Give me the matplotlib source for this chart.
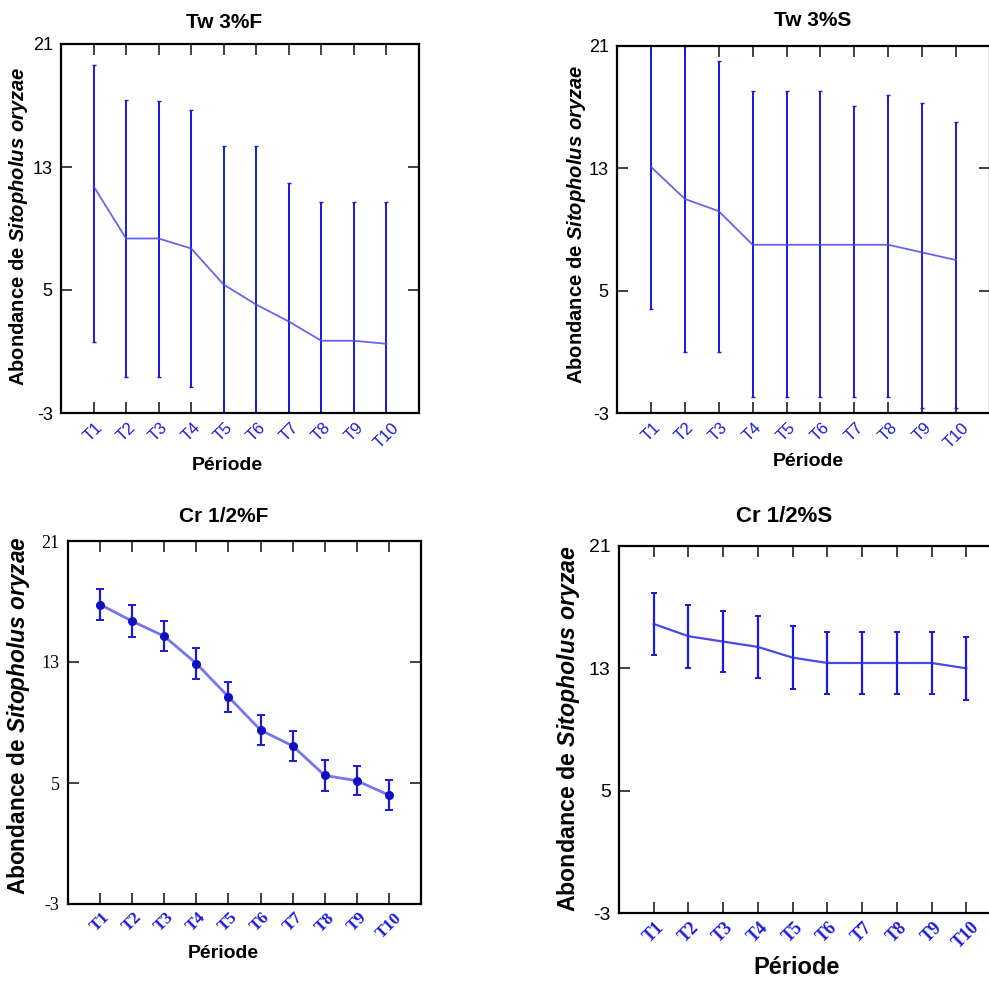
import numpy as np
import matplotlib
matplotlib.use("Agg")
import matplotlib.pyplot as plt

plt.rcParams['font.family'] = ['Liberation Sans', 'DejaVu Sans']
plt.rcParams['mathtext.fontset'] = 'custom'
plt.rcParams['mathtext.rm'] = 'Liberation Sans:bold'
plt.rcParams['mathtext.it'] = 'Liberation Sans:italic:bold'

periodes = ['T1', 'T2', 'T3', 'T4', 'T5', 'T6', 'T7', 'T8', 'T9', 'T10']
yticks = [-3, 5, 13, 21]

# Tw 3%F
tw3f_moy = [11.75, 8.35, 8.35, 7.7, 5.35, 4.05, 2.95, 1.7, 1.7, 1.5]
tw3f_bas = [10.1, 9.0, 9.0, 9.0, 9.0, 10.3, 9.0, 9.0, 9.0, 9.2]
tw3f_haut = [7.9, 9.0, 8.95, 9.0, 9.0, 10.3, 9.0, 9.0, 9.0, 9.2]

# Tw 3%S
tw3s_moy = [13.1, 11.0, 10.2, 8.0, 8.0, 8.0, 8.0, 8.0, 7.5, 7.0]
tw3s_bas = [9.3, 10.0, 9.2, 9.95, 9.95, 9.95, 9.95, 9.95, 10.2, 9.7]
tw3s_haut = [9.3, 10.0, 9.8, 10.05, 10.05, 10.05, 9.1, 9.8, 9.75, 9.0]

# Cr 1/2%F
cr12f_moy = [16.8, 15.7, 14.7, 12.9, 10.7, 8.5, 7.45, 5.5, 5.15, 4.2]
cr12f_err = [1.0, 1.05, 1.0, 1.05, 1.0, 1.0, 1.0, 1.0, 0.95, 1.0]

# Cr 1/2%S
cr12s_moy = [15.9, 15.1, 14.75, 14.4, 13.7, 13.35, 13.35, 13.35, 13.35, 13.0]
cr12s_err = [2.0, 2.05, 2.0, 2.05, 2.05, 2.0, 2.0, 2.0, 2.0, 2.05]

W, H = 989, 981
fig = plt.figure(figsize=(W / 100, H / 100), dpi=100)


def boite(x0, y0, x1, y1):
    # pixels -> fraction de figure
    return [x0 / W, 1 - y1 / H, (x1 - x0) / W, (y1 - y0) / H]


def txt(x, y, s, **kw):
    fig.text(x / W, 1 - y / H, s, ha='center', va='center', **kw)


bleu = '#1a1ad8'
x = np.arange(1, 11)


def axe(pos, ysize, yfam, xsize, xfam, xweight, xpad):
    ax = fig.add_axes(pos)
    ax.set_xlim(0, 11)
    ax.set_ylim(-3, 21)
    ax.set_xticks(x)
    ax.set_xticklabels(periodes, rotation=45, ha='center', color=bleu,
                       fontsize=xsize, family=xfam, fontweight=xweight)
    ax.set_yticks(yticks)
    ax.set_yticklabels([str(v) for v in yticks], fontsize=ysize, family=yfam)
    ax.tick_params(direction='in', length=8, width=1.3, color='#333333',
                   top=True, right=True)
    ax.tick_params(axis='x', pad=xpad)
    ax.tick_params(axis='y', pad=6)
    for s in ax.spines.values():
        s.set_linewidth(1.6)
    return ax


ylab = r'Abondance de $\mathit{Sitopholus\ oryzae}$'

# Tw 3%F
ax1 = axe(boite(61, 44, 419, 413), 13, 'Liberation Sans', 12, 'Liberation Sans', 'normal', 5)
ax1.errorbar(x, tw3f_moy, yerr=[tw3f_bas, tw3f_haut], fmt='none', ecolor=bleu,
             elinewidth=1.4, capsize=1.5)
ax1.plot(x, tw3f_moy, color='#4a4aee', lw=1.3, alpha=0.85)
txt(224, 22, 'Tw 3%F', fontsize=15, fontweight='bold')
txt(227, 465, 'Période', fontsize=14, fontweight='bold')
txt(19, 226, ylab, fontsize=14.5, fontweight='bold', rotation=90)

# Tw 3%S
ax2 = axe(boite(617, 46, 990, 413), 13, 'Liberation Sans', 12, 'Liberation Sans', 'normal', 5)
ax2.errorbar(x, tw3s_moy, yerr=[tw3s_bas, tw3s_haut], fmt='none', ecolor=bleu,
             elinewidth=1.4, capsize=1.5)
ax2.plot(x, tw3s_moy, color='#4a4aee', lw=1.3, alpha=0.85)
txt(813, 20, 'Tw 3%S', fontsize=15, fontweight='bold')
txt(808, 462, 'Période', fontsize=14, fontweight='bold')
txt(576, 224, ylab, fontsize=14.5, fontweight='bold', rotation=90)

# Cr 1/2%F
ax3 = axe(boite(68, 541, 421, 904), 13, 'Liberation Serif', 12.5, 'Liberation Serif', 'bold', 4)
ax3.errorbar(x, cr12f_moy, yerr=cr12f_err, fmt='none', ecolor=bleu,
             elinewidth=1.6, capsize=3, capthick=1.4)
ax3.plot(x, cr12f_moy, color='#3a3aee', lw=2, alpha=0.7)
ax3.plot(x, cr12f_moy, 'o', color='#1010c0', ms=5.5, lw=0)
txt(224, 516, 'Cr 1/2%F', fontsize=15, fontweight='bold')
txt(223, 953, 'Période', fontsize=14, fontweight='bold')
txt(18.5, 716, ylab, fontsize=16.3, fontweight='bold', rotation=90)

# Cr 1/2%S
ax4 = axe(boite(619, 546, 1001, 913), 14, 'Liberation Sans', 13, 'Liberation Serif', 'bold', 4)
ax4.errorbar(x, cr12s_moy, yerr=cr12s_err, fmt='none', ecolor=bleu,
             elinewidth=1.6, capsize=2.5, capthick=1.4)
ax4.plot(x, cr12s_moy, color='#2a2ae6', lw=1.6, alpha=0.85)
txt(784, 517, 'Cr 1/2%S', fontsize=16, fontweight='bold')
txt(797, 967, 'Période', fontsize=17, fontweight='bold')
txt(569, 729, ylab, fontsize=16.7, fontweight='bold', rotation=90)

fig.savefig('out.png', dpi=100)
